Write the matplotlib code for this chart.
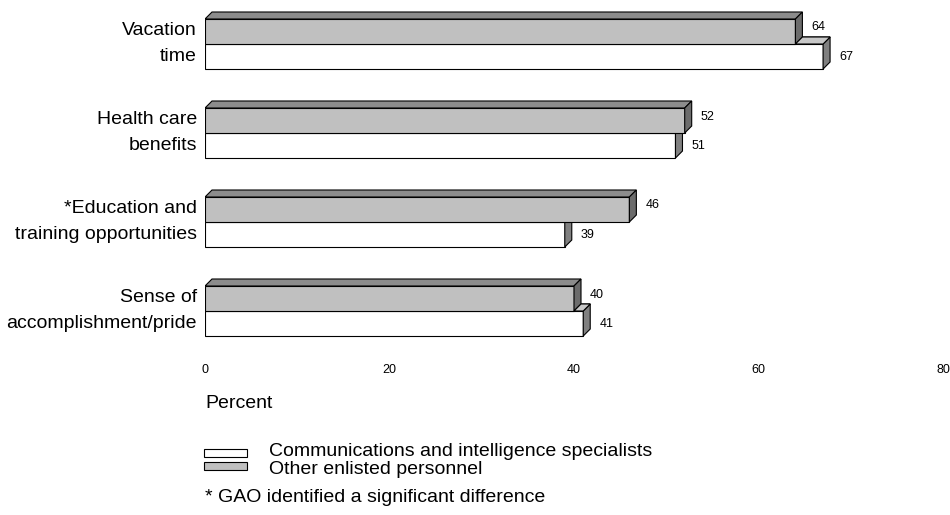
import matplotlib
matplotlib.use("Agg")
import matplotlib.pyplot as plt
from matplotlib.patches import Polygon, Rectangle

plt.rcParams['font.family'] = ['Liberation Sans', 'DejaVu Sans']

categories = ["Vacation\ntime", "Health care\nbenefits", "*Education and\ntraining opportunities",
              "Sense of\naccomplishment/pride"]
comm_values = [67, 51, 39, 41]      # Communications and intelligence specialists (white)
other_values = [64, 52, 46, 40]     # Other enlisted personnel (gray)
xticks = [0, 20, 40, 60, 80]
series_labels = ["Communications and intelligence specialists", "Other enlisted personnel"]
footnote = "* GAO identified a significant difference"

W, H = 950, 515
fig = plt.figure(figsize=(W / 100, H / 100), dpi=100)

# axes in pixel geometry
x0_px, x80_px = 205, 943
ax_top_px, ax_bot_px = 0, 358
ax = fig.add_axes([x0_px / W, 1 - ax_bot_px / H, (x80_px - x0_px) / W, (ax_bot_px - ax_top_px) / H])
ax.set_xlim(0, 80)
ax.set_ylim(ax_bot_px, ax_top_px)  # y data in pixels from top
for s in ax.spines.values():
    s.set_visible(False)
ax.set_yticks([])
ax.set_xticks(xticks)
ax.set_xticklabels([str(t) for t in xticks], fontsize=9)
ax.tick_params(axis='x', length=0, pad=4)

px_per_unit = (x80_px - x0_px) / 80
depth_px = 7
dx = depth_px / px_per_unit
dy = depth_px
bar_h = 25
boundaries = [44, 133, 222, 311]

gray_front = '#c0c0c0'
gray_top = '#8c8c8c'
gray_side = '#6c6c6c'
white_front = '#ffffff'
white_top = '#c8c8c8'
white_side = '#808080'
ec = '#000000'
lw = 0.8


def poly(pts, fc, z):
    ax.add_patch(Polygon(pts, closed=True, facecolor=fc, edgecolor=ec, linewidth=lw, zorder=z,
                         joinstyle='miter'))


for i, b in enumerate(boundaries):
    gv, wv = other_values[i], comm_values[i]
    gt = b - bar_h   # gray front top
    wt = b           # white front top
    wb = b + bar_h
    # white bar (behind)
    poly([(0, wt), (wv, wt), (wv + dx, wt - dy), (dx, wt - dy)], white_top, 1)
    ax.barh(wt + bar_h / 2, wv, height=bar_h, left=0, color=white_front, edgecolor=ec,
            linewidth=lw, zorder=2)
    poly([(wv, wt), (wv + dx, wt - dy), (wv + dx, wb - dy), (wv, wb)], white_side, 2)
    # gray bar
    ax.barh(gt + bar_h / 2, gv, height=bar_h, left=0, color=gray_front, edgecolor=ec,
            linewidth=lw, zorder=3)
    poly([(0, gt), (gv, gt), (gv + dx, gt - dy), (dx, gt - dy)], gray_top, 3)
    poly([(gv, gt), (gv + dx, gt - dy), (gv + dx, wt - dy), (gv, wt)], gray_side, 3)
    if wv > gv:
        poly([(gv, wt), (wv, wt), (wv + dx, wt - dy), (gv + dx, wt - dy)], white_top, 4)
    # value labels
    ax.text(gv + dx + 9 / px_per_unit, gt + bar_h / 2 - 4, str(gv), fontsize=9,
            va='center', ha='left', zorder=5)
    ax.text(wv + dx + 9 / px_per_unit, wt + bar_h / 2 + 0.5, str(wv), fontsize=9,
            va='center', ha='left', zorder=5)
    # category labels
    ax.text(-8 / px_per_unit, b - 0.5, categories[i], fontsize=14, ha='right', va='center',
            linespacing=1.7, clip_on=False)


def ft(x, y, s, **kw):
    fig.text(x / W, 1 - y / H, s, **kw)


ft(205, 403, "Percent", fontsize=14, va='center', ha='left')

# legend
fig.patches.append(Rectangle((204 / W, 1 - 457 / H), 43 / W, 8 / H, transform=fig.transFigure,
                             facecolor=white_front, edgecolor=ec, linewidth=lw))
fig.patches.append(Rectangle((204 / W, 1 - 470 / H), 43 / W, 8 / H, transform=fig.transFigure,
                             facecolor=gray_front, edgecolor=ec, linewidth=lw))
ft(269, 452, series_labels[0], fontsize=14, va='center', ha='left')
ft(269, 470, series_labels[1], fontsize=14, va='center', ha='left')
ft(205, 497, footnote, fontsize=14, va='center', ha='left')

fig.savefig("out.png", dpi=100)
